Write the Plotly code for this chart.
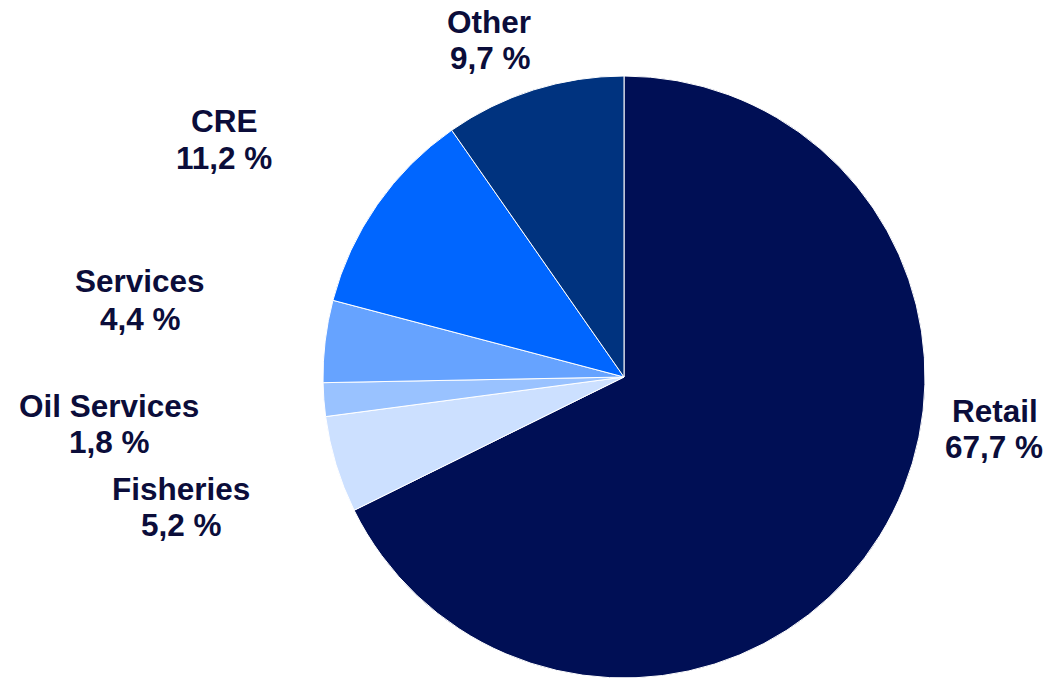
import plotly.graph_objects as go

# Portfolio split by segment, clockwise from 12 o'clock
segments = ["Retail", "Fisheries", "Oil Services", "Services", "CRE", "Other"]
shares = [67.7, 5.2, 1.8, 4.4, 11.2, 9.7]
colors = ["#000F55", "#CCE0FF", "#99C2FF", "#66A3FF", "#0066FF", "#00337F"]

# Label anchor points in pixels (x from left, y from top) for name line / value line
label_pos = {
    "Retail": ((995, 411), (994, 447)),
    "Fisheries": ((181, 489), (181, 525)),
    "Oil Services": ((109, 406), (109, 442)),
    "Services": ((140, 281), (140, 319)),
    "CRE": ((224, 121), (224, 158)),
    "Other": ((489, 22), (490, 58)),
}

W, H = 1054, 678
cx, cy, r = 624, 377, 301

text_color = "#0B0D3A"
font = dict(family="Liberation Sans, Arial, sans-serif", size=31.5, color=text_color)

fig = go.Figure(
    go.Pie(
        labels=segments,
        values=shares,
        sort=False,
        direction="clockwise",
        rotation=0,
        marker=dict(colors=colors, line=dict(color="white", width=1)),
        textinfo="none",
        hoverinfo="label+percent",
        showlegend=False,
        domain=dict(
            x=[(cx - r) / W, (cx + r) / W],
            y=[(H - cy - r) / H, (H - cy + r) / H],
        ),
    )
)

annotations = []
for name, val in zip(segments, shares):
    (nx, ny), (vx, vy) = label_pos[name]
    value_text = f"{val:.1f}".replace(".", ",") + " %"
    for txt, (px, py) in ((name, (nx, ny)), (value_text, (vx, vy))):
        annotations.append(
            dict(
                x=px / W,
                y=1 - py / H,
                xref="paper",
                yref="paper",
                text=f"<b>{txt}</b>",
                showarrow=False,
                xanchor="center",
                yanchor="middle",
                font=font,
            )
        )

fig.update_layout(
    width=W,
    height=H,
    margin=dict(l=0, r=0, t=0, b=0),
    paper_bgcolor="white",
    plot_bgcolor="white",
    annotations=annotations,
)

fig.write_html("out.html")
